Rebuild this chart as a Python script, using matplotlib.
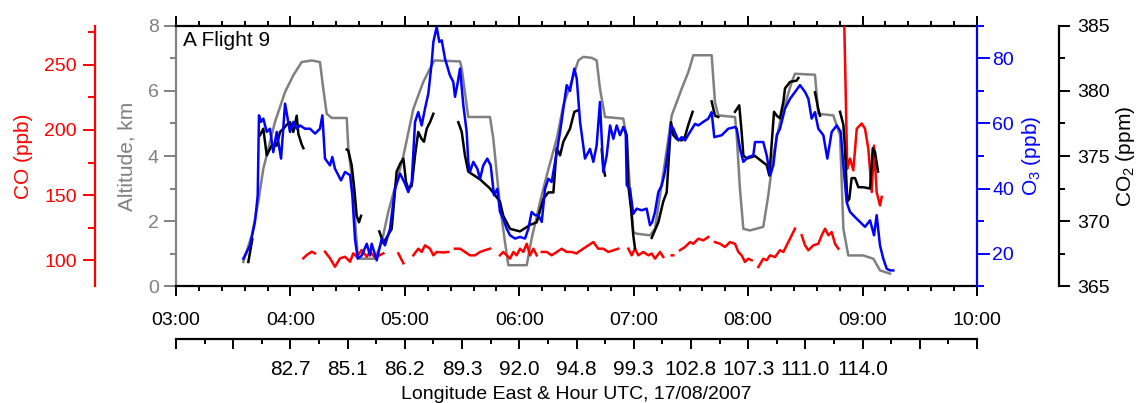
import numpy as np
import matplotlib
matplotlib.use("Agg")
import matplotlib.pyplot as plt
from matplotlib.ticker import MultipleLocator, FuncFormatter

plt.rcParams["font.family"] = ["Liberation Sans", "DejaVu Sans"]
plt.rcParams["mathtext.default"] = "regular"

nan = np.nan

# -----------------------------------------------------------
# Data (time in decimal hours UTC)
# -----------------------------------------------------------

alt_time = [3.588, 3.662, 3.719, 3.763, 3.807, 3.865, 3.953, 4.025, 4.098, 4.186, 4.258, 4.287,
            4.317, 4.361, 4.492, 4.506, 4.549, 4.570, 4.588, 4.608, 4.739, 4.798, 4.855, 4.943,
            4.987, 5.074, 5.161, 5.249, 5.263, 5.482, 5.497, 5.554, 5.744, 5.773, 5.831, 5.875,
            5.904, 6.065, 6.108, 6.181, 6.240, 6.327, 6.385, 6.443, 6.516, 6.559, 6.633, 6.676,
            6.705, 6.749, 6.909, 6.939, 6.967, 6.996, 7.026, 7.142, 7.186, 7.230, 7.273, 7.332,
            7.376, 7.419, 7.477, 7.521, 7.681, 7.710, 7.739, 7.885, 7.900, 7.928, 7.958, 8.016,
            8.132, 8.176, 8.220, 8.278, 8.337, 8.381, 8.409, 8.584, 8.613, 8.744, 8.803, 8.832,
            8.875, 9.006, 9.094, 9.152, 9.240]
alt_km = [0.74, 1.56, 2.58, 3.61, 4.22, 5.05, 5.97, 6.48, 6.89, 6.94, 6.89, 6.07,
          5.30, 5.17, 5.17, 4.22, 2.99, 1.76, 0.94, 0.84, 0.84, 1.35, 2.28, 3.41,
          4.00, 5.45, 6.28, 6.89, 6.94, 6.91, 6.69, 5.20, 5.20, 4.53, 2.48, 1.35,
          0.64, 0.64, 1.46, 2.58, 3.41, 4.53, 5.56, 6.15, 6.94, 7.05, 7.02, 6.94,
          6.07, 5.20, 5.15, 4.53, 2.99, 1.66, 1.61, 1.56, 1.76, 2.79, 3.82, 5.25,
          5.66, 6.07, 6.58, 7.10, 7.10, 5.66, 5.25, 5.20, 4.64, 2.99, 1.76, 1.71,
          1.82, 2.79, 4.02, 5.05, 5.76, 6.28, 6.53, 6.50, 5.30, 5.25, 4.64, 1.76,
          0.94, 0.94, 0.84, 0.48, 0.38]

o3_time = [3.588, 3.647, 3.690, 3.714, 3.725, 3.743, 3.763, 3.793, 3.821, 3.850, 3.880, 3.918,
           3.953, 3.976, 3.996, 4.025, 4.055, 4.084, 4.127, 4.171, 4.215, 4.258, 4.279, 4.302,
           4.346, 4.366, 4.389, 4.442, 4.477, 4.521, 4.541, 4.564, 4.588, 4.623, 4.667, 4.695,
           4.710, 4.754, 4.798, 4.826, 4.870, 4.914, 4.958, 5.001, 5.030, 5.060, 5.089, 5.117,
           5.147, 5.176, 5.205, 5.235, 5.249, 5.278, 5.301, 5.322, 5.351, 5.394, 5.423, 5.438,
           5.458, 5.482, 5.511, 5.540, 5.554, 5.569, 5.598, 5.633, 5.657, 5.685, 5.720, 5.750,
           5.779, 5.808, 5.831, 5.860, 5.890, 5.919, 5.963, 6.006, 6.050, 6.079, 6.108, 6.137,
           6.166, 6.196, 6.225, 6.254, 6.283, 6.312, 6.356, 6.385, 6.414, 6.443, 6.458, 6.481,
           6.502, 6.531, 6.574, 6.618, 6.647, 6.676, 6.705, 6.734, 6.764, 6.793, 6.822, 6.851,
           6.880, 6.909, 6.930, 6.939, 6.967, 6.996, 7.026, 7.070, 7.113, 7.142, 7.162, 7.186,
           7.215, 7.245, 7.273, 7.302, 7.326, 7.346, 7.390, 7.419, 7.448, 7.492, 7.536, 7.564,
           7.608, 7.652, 7.681, 7.704, 7.769, 7.826, 7.885, 7.900, 7.929, 7.958, 8.001, 8.045,
           8.060, 8.132, 8.162, 8.191, 8.220, 8.250, 8.278, 8.322, 8.366, 8.409, 8.453, 8.497,
           8.526, 8.555, 8.584, 8.613, 8.657, 8.692, 8.730, 8.774, 8.809, 8.832, 8.861, 8.890,
           8.934, 8.978, 9.021, 9.065, 9.100, 9.123, 9.152, 9.181, 9.211, 9.240, 9.268]
o3_ppb = [18.4, 22.5, 29.7, 37.9, 62.5, 60.5, 61.5, 57.4, 58.4, 51.2, 57.4, 49.2,
          66.1, 61.5, 57.4, 60.5, 58.4, 59.4, 58.4, 58.4, 56.9, 58.4, 62.5, 49.2,
          47.1, 49.7, 46.1, 42.5, 45.1, 44.1, 37.9, 24.6, 18.4, 19.4, 23.0, 19.4,
          23.0, 17.9, 24.6, 22.5, 27.6, 39.9, 44.6, 41.5, 38.9, 42.0, 60.5, 63.5,
          59.4, 64.6, 69.2, 78.9, 85.1, 89.7, 85.1, 85.6, 79.9, 74.8, 72.8, 68.2,
          71.8, 76.9, 65.6, 57.4, 48.2, 45.1, 48.2, 46.1, 43.0, 47.1, 49.2, 47.1,
          37.9, 39.9, 32.8, 30.7, 27.6, 25.6, 24.6, 25.1, 24.6, 27.6, 32.8, 31.8,
          31.8, 29.7, 39.9, 43.0, 42.0, 48.2, 57.4, 64.6, 71.8, 70.0, 72.8, 76.9,
          73.8, 60.5, 49.2, 52.2, 48.2, 53.3, 66.6, 45.1, 50.2, 59.4, 55.3, 59.4,
          56.4, 58.9, 57.4, 41.0, 39.9, 32.2, 33.8, 33.3, 33.8, 28.7, 29.7, 32.8,
          38.9, 41.0, 45.1, 52.2, 59.4, 58.4, 54.8, 55.8, 54.8, 57.4, 59.9, 59.4,
          60.5, 61.5, 63.5, 55.8, 56.4, 58.4, 58.9, 58.4, 52.2, 48.2, 49.7, 50.2,
          54.3, 54.3, 50.2, 44.1, 47.1, 56.4, 58.4, 64.6, 67.6, 69.7, 71.8, 69.7,
          67.6, 61.5, 63.5, 58.4, 56.4, 49.2, 57.4, 59.4, 57.4, 47.1, 35.8, 32.8,
          31.2, 29.7, 28.2, 30.2, 25.6, 31.8, 22.5, 18.4, 15.3, 14.8, 14.8]

co2_time = [3.632, 3.667, nan,
            3.734, 3.763, 3.793, 3.836, 3.880, 3.909, 3.938, 3.967, 3.996, 4.025, 4.055, 4.069,
            4.098, 4.113, nan,
            4.492, 4.506, 4.535, 4.558, 4.579, 4.599, 4.617, nan,
            4.777, 4.812, 4.885, 4.928, 4.958, 4.987, 5.010, 5.030, 5.060, 5.089, 5.117, 5.147,
            5.167, 5.191, 5.220, 5.249, nan,
            5.467, 5.497, 5.525, 5.554, 5.657, 5.744, 5.831, 5.860, 5.890, 5.919, 6.006, 6.094,
            6.152, 6.210, 6.254, 6.298, 6.327, 6.356, 6.385, 6.414, 6.443, 6.481, 6.510, nan,
            6.720, 6.734, 6.749, nan,
            6.909, 6.939, 6.953, 6.977, 6.996, 7.011, nan,
            7.157, 7.215, 7.258, 7.288, 7.308, 7.326, 7.346, 7.376, 7.419, 7.448, 7.477, 7.515, nan,
            7.681, 7.710, 7.739, nan,
            7.885, 7.922, 7.943, 7.958, 7.987, 8.060, 8.162, 8.185, 8.226, 8.250, 8.278, 8.308,
            8.322, 8.366, 8.424, 8.439, nan,
            8.584, 8.613, 8.628, nan,
            8.803, 8.832, 8.846, 8.866, 8.884, 8.904, 8.934, 8.963, 9.006, 9.065, 9.089, 9.109,
            9.135]
co2_ppm = [366.85, 368.6, nan,
           376.6, 377.1, 375.05, 375.8, 375.8, 376.85, 377.1, 377.4, 377.6, 376.85, 378.1, 376.7,
           375.9, 375.6, nan,
           375.5, 375.4, 374.3, 372.5, 370.4, 369.9, 370.4, nan,
           369.2, 368.3, 369.4, 373.8, 374.4, 374.8, 373.0, 372.5, 372.7, 375.05, 376.85, 376.3,
           376.1, 377.1, 377.6, 378.25, nan,
           377.6, 376.85, 375.05, 373.8, 373.2, 372.5, 371.5, 370.4, 369.9, 369.4, 369.2, 369.7,
           369.9, 371.7, 372.2, 372.2, 375.6, 375.05, 376.1, 376.6, 377.1, 378.4, 378.5, nan,
           375.5, 374.2, 373.5, nan,
           377.2, 376.6, 372.7, 370.9, 368.9, 367.9, nan,
           368.7, 369.9, 371.5, 372.2, 375.05, 377.6, 376.6, 376.3, 376.2, 376.5, 377.4, 378.4, nan,
           379.2, 378.1, 378.0, nan,
           378.4, 378.9, 376.85, 375.05, 374.8, 375.0, 374.3, 373.5, 378.4, 378.1, 377.9, 379.2,
           380.2, 380.7, 380.8, 381.0, nan,
           379.9, 378.6, 378.1, nan,
           378.4, 377.4, 375.6, 371.5, 371.7, 373.3, 373.3, 372.6, 372.6, 372.5, 375.6, 375.3,
           373.8]

co_time = [4.113, 4.142, 4.186, 4.215, nan,
           4.302, 4.346, 4.389, 4.433, 4.477, 4.521, 4.549, 4.579, 4.623, 4.667, 4.695, 4.739,
           4.812, nan,
           4.943, 4.987, nan,
           5.074, 5.117, 5.147, 5.176, 5.220, 5.249, 5.278, 5.336, 5.380, nan,
           5.438, 5.482, 5.525, 5.569, 5.613, 5.657, 5.700, 5.744, nan,
           5.831, 5.860, 5.890, 5.919, 5.948, 5.977, 6.006, 6.035, 6.065, 6.094, 6.123, 6.152, nan,
           6.196, 6.240, 6.283, 6.327, 6.371, 6.414, 6.458, 6.502, 6.516, 6.559, 6.603, 6.647,
           6.690, 6.734, 6.778, 6.822, 6.865, nan,
           6.953, 6.982, 7.011, 7.040, 7.084, 7.128, 7.157, 7.186, 7.230, 7.258, nan,
           7.332, 7.346, nan,
           7.404, 7.448, 7.492, 7.521, 7.564, 7.608, 7.652, nan,
           7.710, 7.754, 7.798, 7.841, 7.885, 7.914, 7.943, 7.972, 8.001, 8.031, nan,
           8.089, 8.132, 8.162, 8.191, 8.235, 8.278, 8.308, 8.351, 8.381, 8.409, nan,
           8.468, 8.497, 8.526, 8.570, 8.613, 8.643, 8.672, 8.701, 8.730, 8.759, 8.788, nan,
           8.838, 8.866, 8.890, 8.919, 8.949, 8.992, 9.021, 9.050, 9.080, 9.100, 9.123, 9.152,
           9.167]
co_ppb = [101.3, 103.8, 106.4, 105.1, nan,
          106.4, 101.3, 94.8, 101.3, 102.5, 98.7, 105.1, 102.5, 107.7, 102.5, 106.4, 102.0,
          105.1, nan,
          105.1, 97.5, nan,
          103.6, 108.7, 106.2, 111.3, 108.7, 103.6, 106.2, 105.8, 106.2, nan,
          108.7, 108.7, 106.2, 103.6, 103.6, 106.2, 107.5, 108.7, nan,
          103.6, 106.2, 103.6, 101.1, 106.2, 103.6, 108.7, 106.2, 112.5, 103.6, 108.7, 103.6, nan,
          106.2, 106.2, 103.6, 106.2, 108.7, 106.2, 106.2, 105.0, 106.2, 108.7, 111.3, 113.8,
          108.7, 108.7, 106.2, 107.5, 108.7, nan,
          108.7, 103.6, 108.7, 103.6, 106.2, 103.6, 105.0, 101.0, 106.2, 102.3, nan,
          103.6, 103.6, nan,
          107.5, 110.0, 113.8, 112.5, 116.4, 115.1, 117.7, nan,
          113.8, 112.5, 110.0, 113.8, 112.5, 106.2, 103.6, 98.5, 101.0, 99.8, nan,
          94.6, 101.0, 99.8, 103.6, 102.3, 107.5, 106.2, 113.8, 119.0, 124.1, nan,
          119.0, 111.3, 107.5, 111.3, 112.5, 119.0, 124.1, 119.0, 121.5, 112.5, 108.7, nan,
          290.0, 170.0, 178.0, 169.0, 201.0, 205.0, 201.0, 185.6, 152.3, 188.0, 152.0, 142.0,
          148.5]

# Longitude labels on the lower axis (every 30 min from 04:00 to 09:00)
lon_hours = [4.0, 4.5, 5.0, 5.5, 6.0, 6.5, 7.0, 7.5, 8.0, 8.5, 9.0]
lon_labels = ["82.7", "85.1", "86.2", "89.3", "92.0", "94.8", "99.3", "102.8", "107.3", "111.0", "114.0"]

# -----------------------------------------------------------
# Figure
# -----------------------------------------------------------

tick_fs = 14
label_fs = 15
lw_line = 1.8
lw_spine = 1.6

fig = plt.figure(figsize=(11.37, 4.03), dpi=100)
ax = fig.add_axes([0.1548, 0.2903, 0.7045, 0.6452])

ax_co = ax.twinx()
ax_co2 = ax.twinx()
ax_o3 = ax.twinx()

ax.plot(alt_time, alt_km, color="#808080", lw=lw_line)
ax_co.plot(co_time, co_ppb, color="#ff0000", lw=lw_line)
ax_co2.plot(co2_time, co2_ppm, color="black", lw=lw_line)
ax_o3.plot(o3_time, o3_ppb, color="#0000ff", lw=lw_line)

# x axis: hour UTC
ax.set_xlim(3, 10)
ax.xaxis.set_major_locator(MultipleLocator(1))
ax.xaxis.set_minor_locator(MultipleLocator(0.2))
ax.xaxis.set_major_formatter(FuncFormatter(lambda v, p: f"{int(round(v)):02d}:00"))
ax.tick_params(axis="x", which="both", direction="out", top=True, bottom=True,
               width=1.4, labelsize=tick_fs, pad=12)
ax.tick_params(axis="x", which="major", length=7)
ax.tick_params(axis="x", which="minor", length=3.5)

# altitude axis
ax.set_ylim(0, 8)
ax.yaxis.set_major_locator(MultipleLocator(2))
ax.yaxis.set_minor_locator(MultipleLocator(1))
ax.tick_params(axis="y", which="both", direction="out", colors="#808080", width=1.4,
               labelsize=tick_fs, pad=4)
ax.tick_params(axis="y", which="major", length=8.5)
ax.tick_params(axis="y", which="minor", length=4.5)
ax.set_ylabel("Altitude, km", color="#808080", fontsize=label_fs, labelpad=8)
ax.spines["left"].set_color("#808080")
ax.spines["right"].set_visible(False)
for s in ["left", "top", "bottom"]:
    ax.spines[s].set_linewidth(lw_spine)

# CO axis (far left)
ax_co.set_ylim(80, 280)
ax_co.yaxis.set_major_locator(MultipleLocator(50))
ax_co.yaxis.set_minor_locator(MultipleLocator(25))
ax_co.yaxis.set_ticks_position("left")
ax_co.yaxis.set_label_position("left")
for s in ["right", "top", "bottom"]:
    ax_co.spines[s].set_visible(False)
ax_co.spines["left"].set_visible(True)
ax_co.spines["left"].set_position(("axes", -0.1011))
ax_co.spines["left"].set_color("#ff0000")
ax_co.spines["left"].set_linewidth(lw_spine)
ax_co.tick_params(axis="y", which="both", direction="out", colors="#ff0000", width=1.4,
                  labelsize=tick_fs, pad=4)
ax_co.tick_params(axis="y", which="major", length=9)
ax_co.tick_params(axis="y", which="minor", length=5)
ax_co.set_ylabel("CO (ppb)", color="#ff0000", fontsize=label_fs, labelpad=8)

# O3 axis (right)
ax_o3.set_ylim(10, 90)
ax_o3.yaxis.set_major_locator(MultipleLocator(20))
ax_o3.yaxis.set_minor_locator(MultipleLocator(10))
for s in ["left", "top", "bottom"]:
    ax_o3.spines[s].set_visible(False)
ax_o3.spines["right"].set_color("#0000ff")
ax_o3.spines["right"].set_linewidth(lw_spine)
ax_o3.tick_params(axis="y", which="both", direction="out", colors="#0000ff", width=1.4,
                  labelsize=tick_fs, pad=2)
ax_o3.tick_params(axis="y", which="major", length=9)
ax_o3.tick_params(axis="y", which="minor", length=5)
ax_o3.set_ylabel("O$_3$ (ppb)", color="#0000ff", fontsize=label_fs, labelpad=4)

# CO2 axis (far right)
ax_co2.set_ylim(365, 385)
ax_co2.yaxis.set_major_locator(MultipleLocator(5))
ax_co2.yaxis.set_minor_locator(MultipleLocator(2.5))
for s in ["left", "top", "bottom"]:
    ax_co2.spines[s].set_visible(False)
ax_co2.spines["right"].set_position(("axes", 1.1024))
ax_co2.spines["right"].set_linewidth(lw_spine)
ax_co2.tick_params(axis="y", which="both", direction="out", colors="black", width=1.4,
                   labelsize=tick_fs, pad=5)
ax_co2.tick_params(axis="y", which="major", length=8)
ax_co2.tick_params(axis="y", which="minor", length=4.5)
ax_co2.set_ylabel("CO$_2$ (ppm)", color="black", fontsize=label_fs, labelpad=3)

ax.text(0.009, 0.98, "A Flight 9", transform=ax.transAxes, ha="left", va="top",
        fontsize=15, zorder=10)

# longitude axis below
sec = ax.secondary_xaxis(-0.2038)
half_hours = np.arange(3.0, 10.01, 0.5)
sec_labels = [lon_labels[lon_hours.index(h)] if h in lon_hours else "" for h in half_hours]
sec.set_xticks(half_hours, sec_labels)
sec.xaxis.set_minor_locator(MultipleLocator(0.25))
sec.tick_params(axis="x", which="both", direction="out", width=1.4, labelsize=tick_fs + 1, pad=8)
sec.tick_params(axis="x", which="major", length=7)
sec.tick_params(axis="x", which="minor", length=3.5)
sec.spines["bottom"].set_linewidth(lw_spine)
sec.set_xlabel("Longitude East & Hour UTC, 17/08/2007", fontsize=14, labelpad=5)

fig.savefig("out.png", dpi=100)
